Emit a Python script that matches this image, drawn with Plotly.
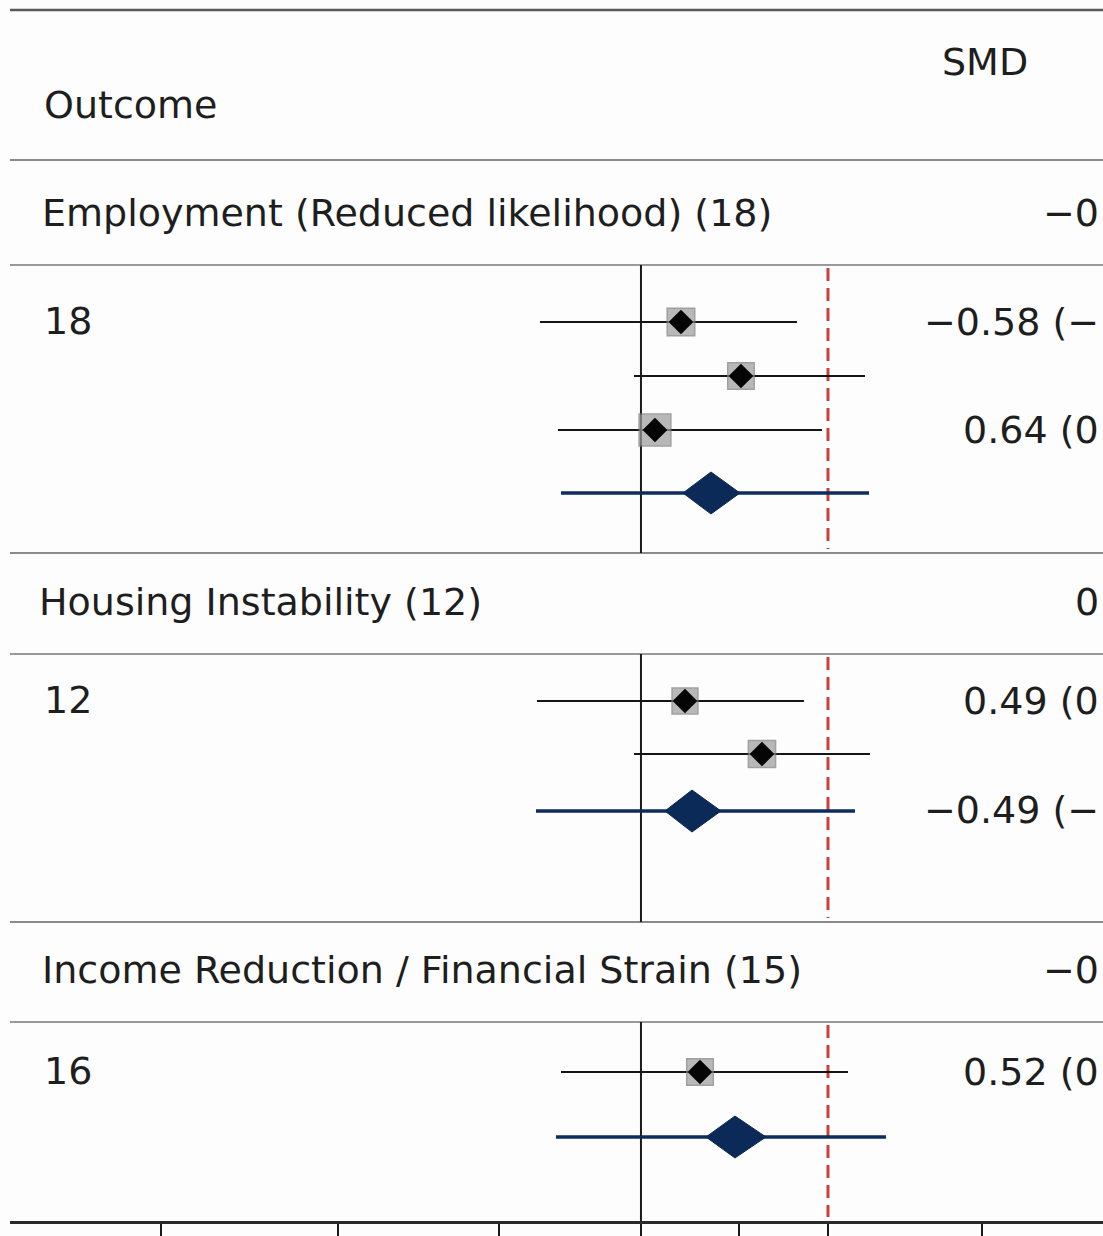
import plotly.graph_objects as go

# ---------------- data ----------------
outcomes = ["Employment (Reduced likelihood) (18)",
            "Housing Instability (12)",
            "Income Reduction / Financial Strain (15)"]
# right-hand SMD column, as far as it is visible in the (cropped) reference
outcome_smd_text = ["−0", "0", "−0"]
study_counts = ["18", "12", "16"]

study_est = [[0.20, 0.50, 0.07], [0.22, 0.605], [0.295]]
study_lo = [[-0.505, -0.035, -0.415], [-0.52, -0.035], [-0.40]]
study_hi = [[0.78, 1.12, 0.905], [0.815, 1.145], [1.035]]
study_weight = [[33, 30, 45], [28, 32], [30]]
study_text = [["−0.58 (−", "", "0.64 (0"],
              ["0.49 (0", ""],
              ["0.52 (0"]]

pooled_est = [0.35, 0.255, 0.47]
pooled_lo = [0.21, 0.12, 0.325]
pooled_hi = [0.495, 0.40, 0.625]
pi_lo = [-0.40, -0.525, -0.425]
pi_hi = [1.14, 1.07, 1.225]
pooled_text = ["", "−0.49 (−", ""]

null_value = 0.0
ref_value = 0.935
tick_values = [-2.4, -1.515, -0.71, 0.0, 0.49, 0.935, 1.705]
tick_labels = ["", "", "", "", "", "", ""]

# ---------------- layout (pixel-based rows) ----------------
W, H = 1103, 1236
BOTTOM = 1221
FONT = "DejaVu Sans"
FS = 38
TXT = "#1e1e1e"

group_top = [160, 553, 922]
title_y = [213, 602, 970]
sub_line = [265, 654, 1022]
group_end = [553, 922, BOTTOM]
first_row_off = [57, 47, 50]
row_step = [54, 53, 54]
diamond_off = [63, 57, 65]

fig = go.Figure()
shapes = []
annotations = []


def text(x, y, s, anchor="left"):
    annotations.append(dict(xref="paper", yref="y", x=x / W, y=y, text=s, showarrow=False,
                            xanchor=anchor, yanchor="middle",
                            font=dict(family=FONT, size=FS, color=TXT)))


def hline(y, color, width):
    shapes.append(dict(type="line", xref="paper", yref="y", x0=0.009, x1=1, y0=y, y1=y,
                       line=dict(color=color, width=width), layer="below"))


hline(10, "#5a5a5a", 2.5)
hline(160, "#8a8a8a", 2)
text(42, 105, "Outcome")
text(940, 62, "SMD")

for g in range(len(outcomes)):
    if g > 0:
        hline(group_top[g], "#8a8a8a", 2)
    hline(sub_line[g], "#9a9a9a", 2)
    text(40 if g != 1 else 37, title_y[g], outcomes[g])
    text(1101, title_y[g], outcome_smd_text[g], anchor="right")
    n = len(study_est[g])
    ys = [sub_line[g] + first_row_off[g] + i * row_step[g] for i in range(n)]
    text(42, ys[0] - 1, study_counts[g])
    # vertical reference lines
    shapes.append(dict(type="line", xref="x", yref="y", x0=null_value, x1=null_value,
                       y0=sub_line[g], y1=group_end[g], line=dict(color="#1a1a1a", width=2), layer="below"))
    shapes.append(dict(type="line", xref="x", yref="y", x0=ref_value, x1=ref_value,
                       y0=sub_line[g] + 3, y1=group_end[g] - 4,
                       line=dict(color="#c8423b", width=3, dash="13px,7px"), layer="below"))
    # CIs
    for i in range(n):
        fig.add_trace(go.Scatter(x=[study_lo[g][i], study_hi[g][i]], y=[ys[i], ys[i]], mode="lines",
                                 line=dict(color="#151515", width=2), hoverinfo="skip", showlegend=False))
    fig.add_trace(go.Scatter(x=study_est[g], y=ys, mode="markers",
                             marker=dict(symbol="square", size=[16 + 0.35 * w for w in study_weight[g]],
                                         color="#9c9c9c", line=dict(color="#7a7a7a", width=1.5)),
                             hoverinfo="skip", showlegend=False))
    fig.add_trace(go.Scatter(x=study_est[g], y=ys, mode="markers",
                             marker=dict(symbol="diamond", size=19, color="#050505"),
                             hoverinfo="skip", showlegend=False))
    for i in range(n):
        if study_text[g][i]:
            text(1101, ys[i], study_text[g][i], anchor="right")
    # pooled
    yd = ys[-1] + diamond_off[g]
    fig.add_trace(go.Scatter(x=[pi_lo[g], pi_hi[g]], y=[yd, yd], mode="lines",
                             line=dict(color="#0d2d5c", width=3.5), hoverinfo="skip", showlegend=False))
    fig.add_trace(go.Scatter(x=[pooled_lo[g], pooled_est[g], pooled_hi[g], pooled_est[g], pooled_lo[g]],
                             y=[yd, yd - 21, yd, yd + 21, yd], mode="lines", fill="toself",
                             fillcolor="#0b2a58", line=dict(color="#0b2a58", width=1),
                             hoverinfo="skip", showlegend=False))
    if pooled_text[g]:
        text(1101, yd - 1, pooled_text[g], anchor="right")

fig.update_layout(
    width=W, height=H, margin=dict(l=0, r=0, t=0, b=H - BOTTOM),
    paper_bgcolor="#fdfdfd", plot_bgcolor="#fdfdfd",
    shapes=shapes, annotations=annotations, showlegend=False,
    xaxis=dict(domain=[0.009, 1], range=[-3.155, 2.31], showgrid=False, zeroline=False,
               showline=True, linecolor="#2a2a2a", linewidth=2.5,
               ticks="outside", ticklen=16, tickwidth=2, tickcolor="#1a1a1a",
               tickvals=tick_values, ticktext=tick_labels, fixedrange=True),
    yaxis=dict(range=[BOTTOM, 0], visible=False, fixedrange=True),
)

fig.write_html("out.html")
